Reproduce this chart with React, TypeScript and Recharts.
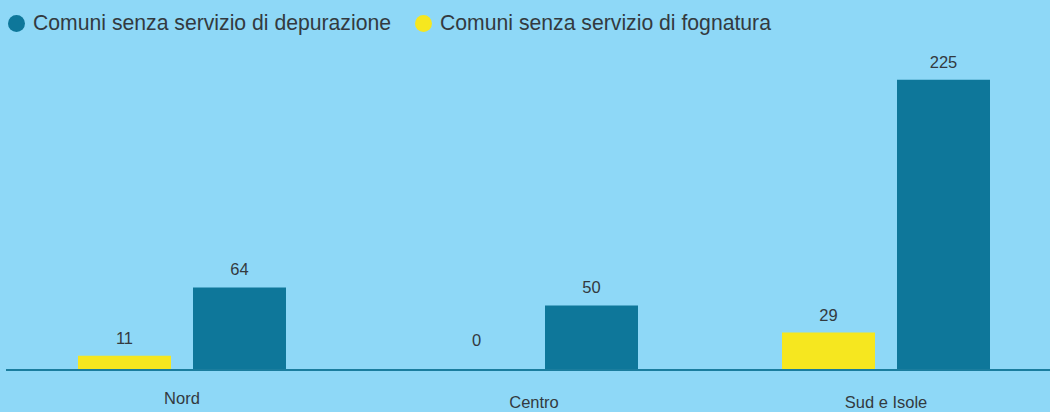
import React from 'react'
import { BarChart, Bar, XAxis, YAxis } from 'recharts'

const categories = ['Nord', 'Centro', 'Sud e Isole']
const senzaFognatura = [11, 0, 29]
const senzaDepurazione = [64, 50, 225]

const data = categories.map((c, i) => ({
  area: c,
  fognatura: senzaFognatura[i],
  depurazione: senzaDepurazione[i],
}))

const BG = '#8ed8f7'
const TEAL = '#0e779a'
const YELLOW = '#f6e71f'
const TEXT = '#333a40'
const FONT = '"Liberation Sans", Arial, Helvetica, sans-serif'

// value label above a bar; zero bars get a bit more room
function ValueLabel(props: any) {
  const { x, y, width, height, value } = props
  const base = y + height
  const cy = Math.min(y, base - 12) - 18
  return (
    <text
      x={x + width / 2}
      y={cy}
      textAnchor="middle"
      dominantBaseline="central"
      fill={TEXT}
      fontSize={16.5}
      fontFamily={FONT}
    >
      {value}
    </text>
  )
}

function AreaTick(props: any) {
  const { x, y, payload, index } = props
  const dy = index === 0 ? 20 : 24
  return (
    <text
      x={x}
      y={y + dy}
      textAnchor="middle"
      dominantBaseline="central"
      fill={TEXT}
      fontSize={16.5}
      fontFamily={FONT}
    >
      {payload.value}
    </text>
  )
}

function LegendItem({ color, label }: { color: string; label: string }) {
  return (
    <span style={{ display: 'inline-flex', alignItems: 'center', marginRight: 24 }}>
      <span
        style={{
          width: 17,
          height: 17,
          borderRadius: '50%',
          background: color,
          display: 'inline-block',
          marginRight: 8,
        }}
      />
      {label}
    </span>
  )
}

export default function App() {
  return (
    <div
      style={{
        position: 'absolute',
        left: 0,
        top: 0,
        width: 1050,
        height: 412,
        overflow: 'hidden',
        background: BG,
        fontFamily: FONT,
      }}
    >
      <div
        style={{
          position: 'absolute',
          left: 8,
          top: 10,
          height: 26,
          display: 'flex',
          alignItems: 'center',
          fontSize: 21.2,
          color: TEXT,
        }}
      >
        <LegendItem color={TEAL} label="Comuni senza servizio di depurazione" />
        <LegendItem color={YELLOW} label="Comuni senza servizio di fognatura" />
      </div>
      <BarChart
        width={1070}
        height={412}
        data={data}
        margin={{ top: 50, right: 8, left: 6, bottom: 0 }}
        barCategoryGap={72}
        barGap={22}
      >
        <XAxis
          dataKey="area"
          height={42}
          axisLine={{ stroke: '#1a7d9e', strokeWidth: 2 }}
          tickLine={false}
          tick={<AreaTick />}
          interval={0}
        />
        <YAxis hide domain={[0, 248]} />
        <Bar
          dataKey="fognatura"
          fill={YELLOW}
          barSize={93}
          minPointSize={0.01}
          isAnimationActive={false}
          label={<ValueLabel />}
        />
        <Bar
          dataKey="depurazione"
          fill={TEAL}
          barSize={93}
          isAnimationActive={false}
          label={<ValueLabel />}
        />
      </BarChart>
    </div>
  )
}
